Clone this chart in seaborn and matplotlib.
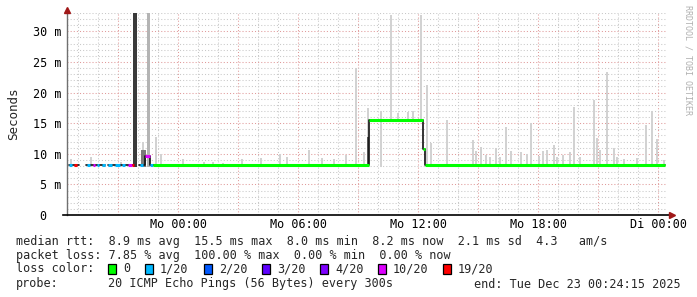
import numpy as np
import pandas as pd
import matplotlib
matplotlib.use("Agg")
import matplotlib.pyplot as plt
from matplotlib.ticker import MultipleLocator, FixedLocator, FuncFormatter
from matplotlib.patches import Rectangle
import seaborn as sns

# ---------------- data (hours relative to Mo 00:00, values in ms) ----------------
# median rtt trace: (start_h, end_h, value_ms)
median_start = [-5.45, -4.60, -3.50, -1.95, -1.65, -1.40, 9.55, 12.25, 12.35]
median_end   = [-4.95, -3.65, -2.20, -1.65, -1.40, 9.55, 12.25, 12.35, 24.35]
median_value = [8.15, 8.15, 8.10, 8.20, 9.60, 8.20, 15.50, 10.85, 8.20]

# loss colour pieces on the median: (start_h, end_h, value_ms, loss_index)
loss_start = [-5.45, -5.20, -4.55, -4.25, -4.05, -3.80, -3.50, -3.15, -2.80, -2.50, -2.30,
              -1.90, -1.65, -1.40, -1.25, 9.55, 12.25, 12.35]
loss_end   = [-5.30, -5.05, -4.40, -4.15, -3.95, -3.65, -3.30, -2.90, -2.65, -2.30, -2.20,
              -1.75, -1.40, -1.25, 9.55, 12.25, 12.35, 24.35]
loss_val   = [8.15, 8.15, 8.15, 8.15, 8.15, 8.15, 8.10, 8.10, 8.10, 8.10, 8.10,
              8.20, 9.60, 8.20, 8.20, 15.50, 10.85, 8.20]
loss_idx   = [1, 6, 1, 5, 1, 1, 1, 1, 1, 5, 6,
              1, 5, 1, 0, 0, 0, 0]

loss_labels = ["0", "1/20", "2/20", "3/20", "4/20", "10/20", "19/20"]
loss_colors = ["#00ff00", "#00b8ff", "#0059ff", "#5e00ff", "#7e00ff", "#dd00ff", "#ff0000"]

# smoke (ping spread) spikes: hour, bottom, top
smoke_hour = [-5.35, -4.35, -2.85, -1.75, -1.10, -0.85, 0.25, 1.30, 1.75, 2.25,
              3.20, 4.15, 5.10, 5.45, 6.55, 7.20, 7.80, 8.40, 8.90, 9.30, 9.50,
              10.15, 10.65, 11.00, 11.50, 11.75, 12.15, 12.45, 12.65, 13.45, 14.75,
              14.90, 15.15, 15.40, 15.60, 15.90, 16.10, 16.40, 16.65, 17.15, 17.45,
              17.65, 18.05, 18.25, 18.45, 18.80, 18.95, 19.25, 19.60, 19.80, 20.10,
              20.80, 20.95, 21.10, 21.45, 21.80, 21.95, 22.30, 22.95, 23.40, 23.70,
              23.95, 24.30]
smoke_low  = [7.9] * 22 + [15.3] * 5 + [7.9] * 36
smoke_top  = [9.1, 9.5, 8.7, 11.9, 12.7, 10.0, 9.1, 8.6, 8.7, 8.5,
              9.2, 9.3, 10.0, 9.4, 10.6, 9.3, 9.2, 9.8, 24.0, 10.3, 17.4,
              17.0, 32.6, 16.6, 16.8, 17.0, 32.6, 21.2, 11.7, 15.5, 12.2,
              10.5, 11.1, 9.8, 9.5, 10.9, 9.4, 14.4, 10.5, 10.3, 10.0,
              15.0, 9.6, 10.4, 10.7, 11.4, 9.5, 9.8, 10.3, 17.6, 9.4,
              18.8, 12.5, 10.6, 23.3, 11.0, 9.5, 9.2, 9.3, 14.7, 17.0,
              12.4, 9.0]

# heavy smoke blocks: start, end, bottom, top, shade
block_start = [-2.27, -1.55, -1.85, 9.45]
block_end   = [-2.05, -1.40, -1.60, 9.55]
block_low   = [7.9, 7.9, 7.9, 7.9]
block_top   = [33.5, 33.5, 10.7, 12.8]
block_shade = ["#3a3a3a", "#b4b4b4", "#7a7a7a", "#555555"]

xtick_pos = [0, 6, 12, 18, 24]
xtick_labels = ["Mo 00:00", "Mo 06:00", "Mo 12:00", "Mo 18:00", "Di 00:00"]
ytick_pos = [0, 5, 10, 15, 20, 25, 30]
ytick_labels = ["0  ", "5 m", "10 m", "15 m", "20 m", "25 m", "30 m"]

legend_lines = [
    "median rtt:  8.9 ms avg  15.5 ms max  8.0 ms min  8.2 ms now  2.1 ms sd  4.3   am/s",
    "packet loss: 7.85 % avg  100.00 % max  0.00 % min  0.00 % now",
]
probe_text = "20 ICMP Echo Pings (56 Bytes) every 300s"
end_text = "end: Tue Dec 23 00:24:15 2025"

# ---------------- figure ----------------
sns.set_theme(style="white")
plt.rcParams["font.family"] = ["DejaVu Sans Mono"]
W, H = 697, 297
fig = plt.figure(figsize=(W / 100, H / 100), dpi=100)
fig.patch.set_facecolor("white")
ax = fig.add_axes([67 / W, (H - 215) / H, 600 / W, 202 / H])
ax.set_facecolor("white")
XMIN, XMAX = -5.55, 24.45
ax.set_xlim(XMIN, XMAX)
ax.set_ylim(0, 33.0)

# grid
ax.xaxis.set_minor_locator(MultipleLocator(1))
ax.yaxis.set_major_locator(FixedLocator(ytick_pos))
ax.yaxis.set_minor_locator(MultipleLocator(1))
ax.grid(which="minor", color="#c8c8c8", linestyle=(0, (1, 2)), linewidth=0.75)
ax.grid(which="major", color="#e09a9a", linestyle=(0, (1, 2)), linewidth=0.75)
ax.set_axisbelow(True)

# smoke
ax.bar(smoke_hour, np.array(smoke_top) - np.array(smoke_low), bottom=smoke_low,
       width=1 / 12, color="#d2d2d2", linewidth=0, zorder=2)
for s, e, lo, hi, c in zip(block_start, block_end, block_low, block_top, block_shade):
    ax.bar((s + e) / 2, hi - lo, bottom=lo, width=e - s, color=c, linewidth=0, zorder=2.5)

# black median trace (steps)
rows = []
for seg, (s, e, v) in enumerate(zip(median_start, median_end, median_value)):
    rows.append({"t": s, "v": v, "seg": seg})
    rows.append({"t": e, "v": v, "seg": seg})
med = pd.DataFrame(rows)
blocks = []
cur = 0
for i in range(len(median_start)):
    if i > 0 and abs(median_start[i] - median_end[i - 1]) > 1e-6:
        cur += 1
    blocks.append(cur)
med["block"] = [blocks[k] for k in med["seg"]]
for b, g in med.groupby("block"):
    sns.lineplot(data=g, x="t", y="v", ax=ax, color="#111111", linewidth=1.2,
                 sort=False, estimator=None, zorder=3)

# loss coloured median pieces
for s, e, v, k in zip(loss_start, loss_end, loss_val, loss_idx):
    ax.hlines(v, s, e, colors=loss_colors[k], linewidth=2.2, zorder=4)

# axes decoration
for sp in ["top", "right"]:
    ax.spines[sp].set_visible(False)
ax.spines["left"].set_color("#707070")
ax.spines["left"].set_linewidth(1.0)
ax.spines["bottom"].set_color("#000000")
ax.spines["bottom"].set_linewidth(1.2)
ax.spines["bottom"].set_bounds(XMIN - 0.2, XMAX + 0.1)
ax.plot([0], [1.0 + 3 / 202], marker="^", ms=4.5, color="#a01818", transform=ax.transAxes,
        clip_on=False, zorder=6)
ax.plot([1.0 + 5 / 600], [0], marker=">", ms=4.5, color="#a01818", transform=ax.transAxes,
        clip_on=False, zorder=6)

ax.xaxis.set_major_locator(FixedLocator(list(np.arange(-3, 25, 3))))
lab = dict(zip(xtick_pos, xtick_labels))
ax.xaxis.set_major_formatter(FuncFormatter(
    lambda x, p: lab.get(int(round(x)), "") if abs(x - round(x)) < 1e-6 else ""))
ax.set_yticks(ytick_pos)
ax.set_yticklabels(ytick_labels)
ax.tick_params(axis="both", which="both", length=0, labelsize=8.5, colors="#000000")
ax.tick_params(axis="x", pad=2)
ax.tick_params(axis="y", pad=4)
ax.set_xlabel("")
ax.set_ylabel("Seconds", fontsize=9, labelpad=9)

# watermark
fig.text(688 / W, 1 - 60 / H, "RRDTOOL / TOBI OETIKER", rotation=270, fontsize=6,
         color="#b0b0b0", ha="center", va="center")

# legend text
fs = 8.5
def ty(ypx):
    return 1 - ypx / H
fig.text(16 / W, ty(241), legend_lines[0], fontsize=fs, va="center", ha="left")
fig.text(16 / W, ty(255), legend_lines[1], fontsize=fs, va="center", ha="left")
fig.text(16 / W, ty(269), "loss color:", fontsize=fs, va="center", ha="left")
sq_x = [108, 145, 204, 262, 320, 378, 443]
for x, c, l in zip(sq_x, loss_colors, loss_labels):
    fig.patches.append(Rectangle((x / W, ty(274)), 8 / W, 10 / H, transform=fig.transFigure,
                                 facecolor=c, edgecolor="black", linewidth=0.9))
    fig.text((x + 15) / W, ty(269), l, fontsize=fs, va="center", ha="left")
fig.text(16 / W, ty(284), "probe:", fontsize=fs, va="center", ha="left")
fig.text(108 / W, ty(284), probe_text, fontsize=fs, va="center", ha="left")
fig.text(681 / W, ty(284), end_text, fontsize=fs, va="center", ha="right")

fig.savefig("out.png", dpi=100)
